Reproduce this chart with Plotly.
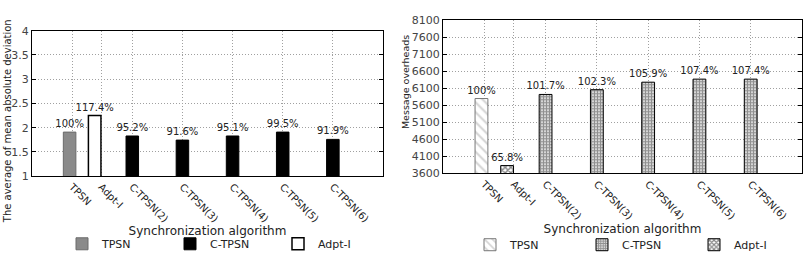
import plotly.graph_objects as go

# ---- data ----
categories = ["TPSN", "Adpt-I", "C-TPSN(2)", "C-TPSN(3)", "C-TPSN(4)", "C-TPSN(5)", "C-TPSN(6)"]
tick_pos = [0.8, 1.38, 2, 3, 4, 5, 6]

# left chart: average of mean absolute deviation
mad_tpsn = [1.91]
mad_adpt = [2.25]
mad_ctpsn = [1.83, 1.745, 1.83, 1.91, 1.76]
mad_tpsn_lbl = ["100%"]
mad_adpt_lbl = ["117.4%"]
mad_ctpsn_lbl = ["95.2%", "91.6%", "95.1%", "99.5%", "91.9%"]

# right chart: message overheads
msg_tpsn = [5800]
msg_adpt = [3830]
msg_ctpsn = [5920, 6060, 6280, 6370, 6370]
msg_tpsn_lbl = ["100%"]
msg_adpt_lbl = ["65.8%"]
msg_ctpsn_lbl = ["101.7%", "102.3%", "105.9%", "107.4%", "107.4%"]

x_tpsn = [0.75]
x_adpt = [1.25]
x_ctpsn = [2, 3, 4, 5, 6]

FONT = "DejaVu Sans"
TXT = "#222222"
BW = 0.25

fig = go.Figure()

# ---- left ----
fig.add_trace(go.Bar(x=x_tpsn, y=mad_tpsn, width=BW, name="TPSN", text=mad_tpsn_lbl,
                     marker=dict(color="#8a8a8a", line=dict(color="#6a6a6a", width=1)),
                     xaxis="x", yaxis="y", legend="legend"))
fig.add_trace(go.Bar(x=x_ctpsn, y=mad_ctpsn, width=BW, name="C-TPSN", text=mad_ctpsn_lbl,
                     marker=dict(color="#000000", line=dict(color="#000000", width=1)),
                     xaxis="x", yaxis="y", legend="legend"))
fig.add_trace(go.Bar(x=x_adpt, y=mad_adpt, width=BW, name="Adpt-I", text=mad_adpt_lbl,
                     marker=dict(color="#ffffff", line=dict(color="#000000", width=1.5)),
                     xaxis="x", yaxis="y", legend="legend"))

# ---- right ----
fig.add_trace(go.Bar(x=x_tpsn, y=msg_tpsn, width=BW, name="TPSN", text=msg_tpsn_lbl,
                     marker=dict(color="#ffffff", line=dict(color="#777777", width=1),
                                 pattern=dict(shape="\\", fgcolor="#aaaaaa", bgcolor="#ffffff",
                                              size=7, solidity=0.3)),
                     xaxis="x2", yaxis="y2", legend="legend2"))
fig.add_trace(go.Bar(x=x_ctpsn, y=msg_ctpsn, width=BW, name="C-TPSN", text=msg_ctpsn_lbl,
                     marker=dict(color="#ffffff", line=dict(color="#000000", width=1),
                                 pattern=dict(shape="+", fgcolor="#222222", bgcolor="#ffffff",
                                              size=3, solidity=0.7)),
                     xaxis="x2", yaxis="y2", legend="legend2"))
fig.add_trace(go.Bar(x=x_adpt, y=msg_adpt, width=BW, name="Adpt-I", text=msg_adpt_lbl,
                     marker=dict(color="#ffffff", line=dict(color="#000000", width=1),
                                 pattern=dict(shape="x", fgcolor="#111111", bgcolor="#ffffff",
                                              size=4, solidity=0.6)),
                     xaxis="x2", yaxis="y2", legend="legend2"))

fig.update_traces(textposition="outside", cliponaxis=False, constraintext="none",
                  textfont=dict(family=FONT, size=10, color=TXT))

W, H = 807, 266
common_x = dict(range=[0, 7], tickvals=tick_pos, ticktext=categories, tickangle=45,
                showgrid=True, gridcolor="#a0a0a0", griddash="1px,2px", gridwidth=1,
                showline=True, linecolor="#000000", linewidth=1, mirror=True,
                ticks="", tickfont=dict(family=FONT, size=10, color=TXT),
                title=dict(text="Synchronization algorithm", font=dict(family=FONT, size=12, color=TXT),
                           standoff=2),
                zeroline=False)
common_y = dict(showgrid=True, gridcolor="#a0a0a0", griddash="1px,2px", gridwidth=1,
                showline=True, linecolor="#000000", linewidth=1, mirror="allticks",
                ticks="inside", ticklen=4, tickcolor="#000000",
                tickfont=dict(family=FONT, size=11, color="#444444"), zeroline=False)

fig.update_layout(
    width=W, height=H, margin=dict(l=0, r=0, t=0, b=0),
    paper_bgcolor="white", plot_bgcolor="white", barmode="overlay",
    font=dict(family=FONT, size=11, color=TXT),
    xaxis=dict(common_x, domain=[32 / W, 383 / W], anchor="y"),
    yaxis=dict(common_y, domain=[1 - 179 / H, 1 - 26 / H], anchor="x", range=[1, 4],
               tickvals=[1, 1.5, 2, 2.5, 3, 3.5, 4],
               ticktext=["1", "1.5", "2", "2.5", "3", "3.5", "4"]),
    xaxis2=dict(common_x, domain=[443 / W, 802 / W], anchor="y2"),
    yaxis2=dict(common_y, domain=[1 - 176 / H, 1 - 15 / H], anchor="x2", range=[3600, 8100],
                tickvals=list(range(3600, 8101, 500))),
    annotations=[
        dict(text="The average of mean absolute deviation", textangle=-90,
             xref="paper", yref="paper", x=0, xanchor="left",
             y=1 - 231 / H, yanchor="bottom", showarrow=False,
             font=dict(family=FONT, size=10, color=TXT)),
        dict(text="Message overheads", textangle=-90,
             xref="paper", yref="paper", x=405 / W, xanchor="center",
             y=1 - 80 / H, yanchor="middle", showarrow=False,
             font=dict(family=FONT, size=9.5, color=TXT)),
    ],
    legend=dict(orientation="h", x=62 / W, xanchor="left", y=1 - 250 / H, yanchor="middle",
                entrywidth=63, font=dict(family=FONT, size=11, color=TXT),
                bgcolor="rgba(0,0,0,0)", traceorder="normal"),
    legend2=dict(orientation="h", x=470 / W, xanchor="left", y=1 - 251 / H, yanchor="middle",
                 entrywidth=67, font=dict(family=FONT, size=11, color=TXT),
                 bgcolor="rgba(0,0,0,0)", traceorder="normal"),
    showlegend=True,
)

fig.write_html("out.html")
